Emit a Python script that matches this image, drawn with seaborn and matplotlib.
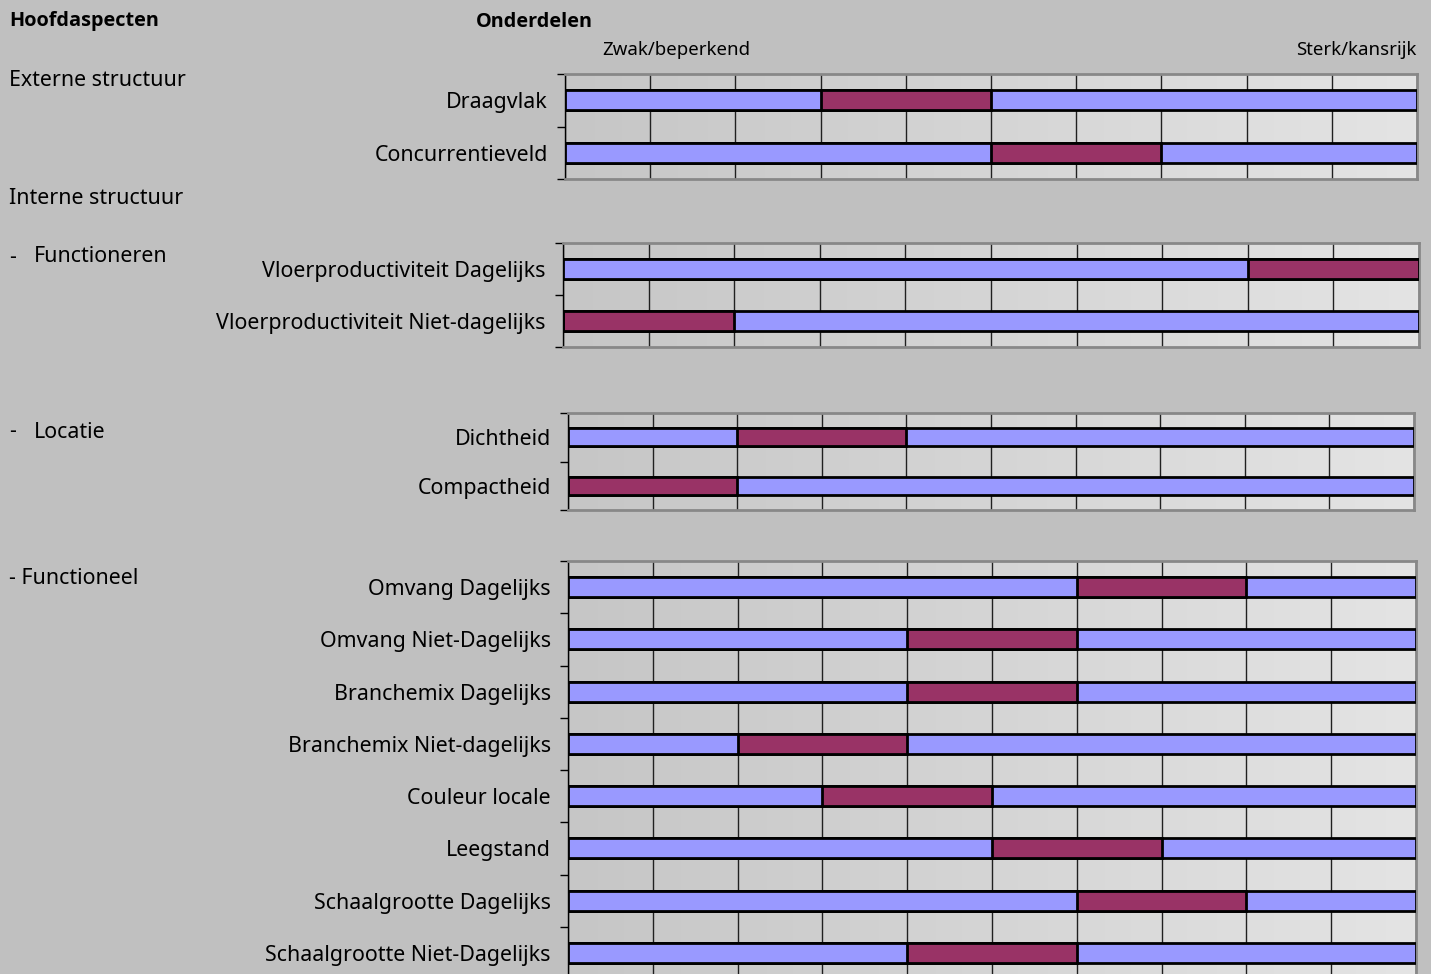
import numpy as np
import pandas as pd
import seaborn as sns
import matplotlib.pyplot as plt
from matplotlib.colors import LinearSegmentedColormap

# data: blue start width and maroon width, on a 0-10 scale (rest is blue)
ext_labels = ['Draagvlak', 'Concurrentieveld']
ext_blue1 = [3, 5]
ext_red = [2, 2]

fun_labels = ['Vloerproductiviteit Dagelijks', 'Vloerproductiviteit Niet-dagelijks']
fun_blue1 = [8, 0]
fun_red = [2, 2]

loc_labels = ['Dichtheid', 'Compactheid']
loc_blue1 = [2, 0]
loc_red = [2, 2]

fnl_labels = ['Omvang Dagelijks', 'Omvang Niet-Dagelijks', 'Branchemix Dagelijks',
              'Branchemix Niet-dagelijks', 'Couleur locale', 'Leegstand',
              'Schaalgrootte Dagelijks', 'Schaalgrootte Niet-Dagelijks']
fnl_blue1 = [6, 4, 4, 2, 3, 5, 6, 4]
fnl_red = [2, 2, 2, 2, 2, 2, 2, 2]

scale_max = 10

sns.set_theme(style='white')
plt.rcParams['font.family'] = ['Noto Sans', 'DejaVu Sans']
plt.rcParams['text.color'] = 'black'

W, H = 1431, 974
fig = plt.figure(figsize=(W / 100, H / 100), dpi=100)
fig.patch.set_facecolor('#c0c0c0')

blue = '#9999ff'
red = '#993366'
grad = LinearSegmentedColormap.from_list('g', ['#c6c6c6', '#e4e4e4'])
FS = 15.4


def panel(left, right, top, bottom, labels, blue1, red_w):
    ax = fig.add_axes([left / W, 1 - bottom / H, (right - left) / W, (bottom - top) / H])
    n = len(labels)
    df = pd.DataFrame({'label': labels,
                       'b1': blue1,
                       'r': [a + b for a, b in zip(blue1, red_w)],
                       'tot': [scale_max] * n})
    # overlay from longest to shortest so the segments look stacked
    for col, c in [('tot', blue), ('r', red), ('b1', blue)]:
        sns.barplot(data=df, x=col, y='label', order=labels, orient='h', color=c,
                    edgecolor='black', linewidth=2, width=0.38, errorbar=None,
                    saturation=1, ax=ax, zorder=3)
    g = np.linspace(0, 1, 256).reshape(1, -1)
    ax.imshow(g, extent=[0, scale_max, n - 0.5, -0.5], aspect='auto', cmap=grad, zorder=0)
    ax.set_xlim(0, scale_max)
    ax.set_ylim(n - 0.5, -0.5)
    ax.set_xticks(range(0, scale_max + 1))
    ax.set_xticklabels([])
    ax.grid(axis='x', color='#202020', lw=1)
    ax.set_axisbelow(True)
    ax.set_xlabel('')
    ax.set_ylabel('')
    ax.set_yticks(range(n))
    ax.set_yticklabels(labels, fontsize=FS, color='black')
    ax.set_yticks(np.arange(-0.5, n), minor=True)
    ax.tick_params(axis='y', which='major', length=0, pad=12.5)
    ax.tick_params(axis='y', which='minor', left=True, length=6, width=1, color='black')
    ax.tick_params(axis='x', length=0)
    for s in ['top', 'right', 'bottom']:
        ax.spines[s].set_color('#888888')
        ax.spines[s].set_linewidth(2)
    ax.spines['left'].set_color('black')
    ax.spines['left'].set_linewidth(1)
    return ax


panel(565, 1417, 74, 179, ext_labels, ext_blue1, ext_red)
panel(563, 1419, 243, 347, fun_labels, fun_blue1, fun_red)
panel(568, 1414, 413, 510, loc_labels, loc_blue1, loc_red)
panel(568, 1416, 561, 979, fnl_labels, fnl_blue1, fnl_red)


def txt(x, y, s, **kw):
    fig.text(x / W, 1 - y / H, s, va='center', color='black', **kw)


bold = dict(fontsize=14.3, fontweight='bold', family=['Open Sans', 'Noto Sans', 'DejaVu Sans'])
txt(9, 21, 'Hoofdaspecten', **bold)
txt(476, 22, 'Onderdelen', **bold)
txt(602, 50, 'Zwak/beperkend', fontsize=13.4)
txt(1416, 50, 'Sterk/kansrijk', fontsize=13.4, ha='right')
txt(9, 81, 'Externe structuur', fontsize=FS)
txt(9, 198, 'Interne structuur', fontsize=FS)
txt(9, 257, '-', fontsize=FS)
txt(34, 257, 'Functioneren', fontsize=FS)
txt(9, 432, '-', fontsize=FS)
txt(34, 432, 'Locatie', fontsize=FS)
txt(9, 579, '- Functioneel', fontsize=FS)

fig.savefig('out.png', dpi=100, facecolor=fig.get_facecolor())
